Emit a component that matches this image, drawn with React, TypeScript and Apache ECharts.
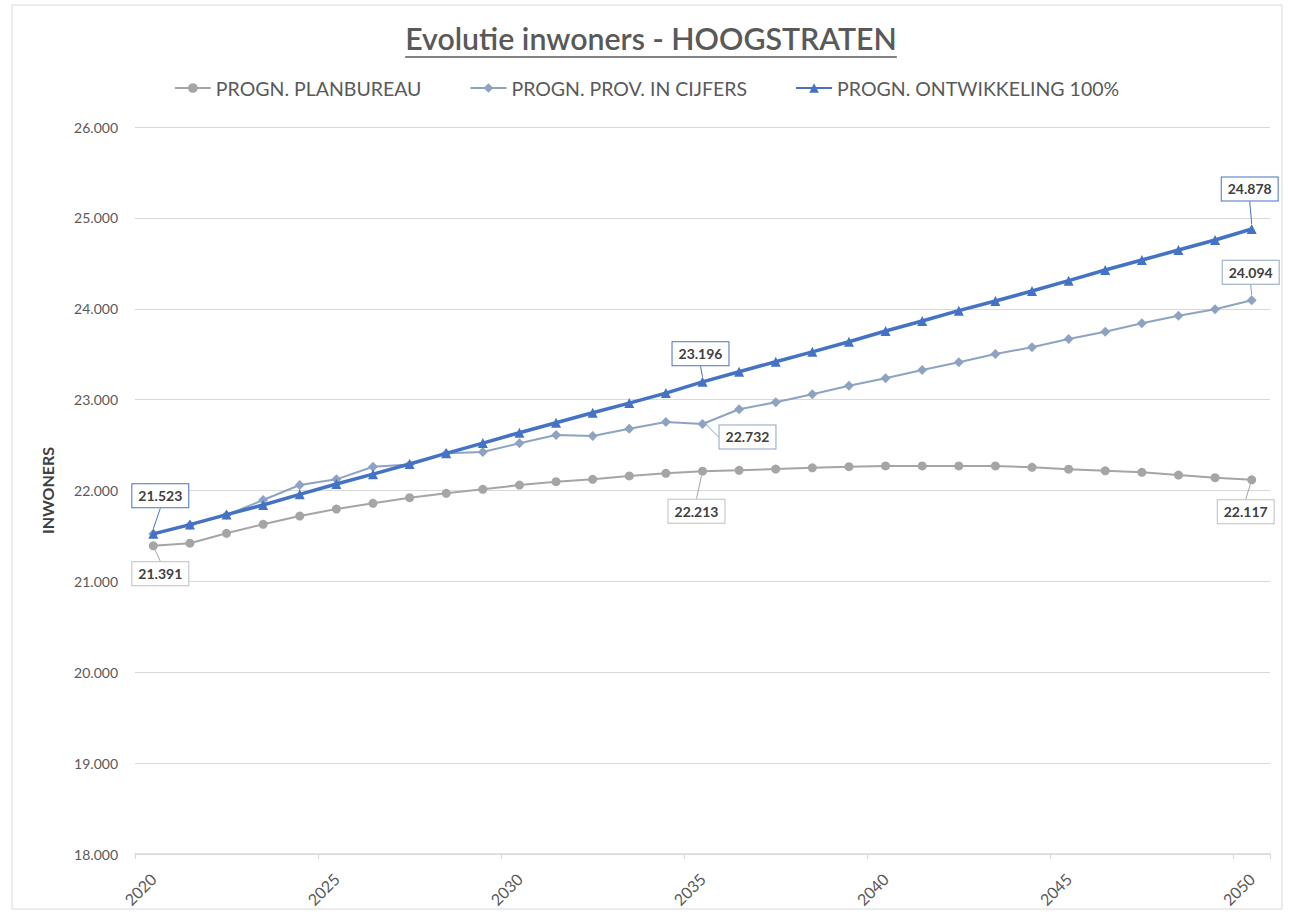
import React, { useEffect, useRef } from "react";
import * as echarts from "echarts";

const years = ["2020","2021","2022","2023","2024","2025","2026","2027","2028","2029","2030","2031","2032","2033","2034","2035","2036","2037","2038","2039","2040","2041","2042","2043","2044","2045","2046","2047","2048","2049","2050"];

const planbureau = [21391,21420,21529,21628,21719,21796,21859,21921,21969,22013,22060,22097,22123,22160,22189,22213,22222,22236,22250,22262,22270,22270,22270,22270,22255,22235,22216,22200,22170,22141,22117];
const provInCijfers = [21523,21620,21730,21895,22060,22123,22262,22285,22409,22424,22519,22611,22600,22680,22754,22732,22894,22971,23059,23153,23235,23326,23411,23502,23576,23667,23748,23840,23924,23994,24094];
const ontwikkeling = [21523,21625,21735,21840,21958,22072,22180,22292,22409,22522,22636,22745,22855,22962,23072,23196,23307,23417,23526,23637,23755,23865,23979,24085,24195,24309,24426,24536,24646,24757,24878];

const seriesNames = ["PROGN. PLANBUREAU", "PROGN. PROV. IN CIJFERS", "PROGN. ONTWIKKELING 100%"];
const titleText = "Evolutie inwoners - HOOGSTRATEN";
const yTicks = { min: 18000, max: 26000, interval: 1000 };

const fmt = (v: number) => {
  const t = Math.floor(v / 1000);
  const r = Math.round(v % 1000);
  return t + "." + String(r).padStart(3, "0");
};

export default function App() {
  const ref = useRef<HTMLDivElement>(null);
  useEffect(() => {
    document.body.style.margin = "0";
    const chart = echarts.init(ref.current!, null, { renderer: "svg" });
    const font = "Lato, 'Open Sans', sans-serif";
    const colors = ["#a5a5a5", "#8ea3c2", "#4472c4"];

    // measure title for underline
    const ctx = document.createElement("canvas").getContext("2d")!;
    ctx.font = "600 28px Lato";
    const w28 = ctx.measureText(titleText).width || 460;
    const titleSize = Math.max(24, Math.min(31, (28 * 492) / w28));
    ctx.font = `600 ${titleSize}px Lato`;
    const tw = ctx.measureText(titleText).width || 492;
    const tcx = 651;

    const labelOffsets: Record<number, Record<number, [number, number]>> = {
      0: { 0: [7, 28], 15: [-6, 40], 30: [-6, 32] },
      1: { 15: [45, 13], 30: [-1, -28] },
      2: { 0: [7, -38], 15: [-2, -28], 30: [-2, -40] },
    };
    const labelIdx: Record<number, number[]> = { 0: [0, 15, 30], 1: [15, 30], 2: [0, 15, 30] };

    const mk = (si: number, vals: number[], symbol: string, size: number, width: number) => ({
      name: seriesNames[si],
      type: "line",
      data: vals.map((v, i) =>
        labelIdx[si].includes(i) ? { value: v, label: { show: true } } : v
      ),
      symbol,
      symbolSize: size,
      itemStyle: { color: colors[si] },
      lineStyle: { color: colors[si], width },
      z: si + 2,
      label: {
        show: false,
        position: "inside",
        formatter: (p: any) => fmt(p.value),
        fontFamily: font,
        fontWeight: "bold",
        fontSize: 14,
        color: "#404040",
        backgroundColor: "#ffffff",
        borderColor: si === 0 ? "#bfbfbf" : colors[si],
        borderWidth: 1,
        padding: [5, 6, 4, 6],
      },
      labelLine: { show: true, lineStyle: { color: colors[si], width: 1 } },
      labelLayout: (p: any) => {
        const o = labelOffsets[si][p.dataIndex];
        if (!o) return {};
        return { dx: o[0], dy: o[1] };
      },
    });

    chart.setOption({
      animation: false,
      backgroundColor: "#ffffff",
      textStyle: { fontFamily: font },
      graphic: [
        {
          type: "rect",
          shape: { x: 12, y: 5, width: 1270, height: 904 },
          style: { fill: "none", stroke: "#d9d9d9", lineWidth: 1 },
          silent: true,
        },
        {
          type: "text",
          x: tcx,
          y: 38,
          style: {
            text: titleText,
            fontFamily: "Lato",
            fontSize: titleSize,
            fontWeight: 600,
            fill: "#595959",
            textAlign: "center",
            textVerticalAlign: "middle",
          },
          silent: true,
        },
        {
          type: "line",
          shape: { x1: tcx - tw / 2, y1: 57, x2: tcx + tw / 2, y2: 57 },
          style: { stroke: "#595959", lineWidth: 1.5 },
          silent: true,
        },
      ],
      legend: {
        top: 73,
        left: "center",
        itemGap: 48,
        itemWidth: 36,
        itemHeight: 12,
        textStyle: { fontFamily: font, fontSize: 19.5, color: "#595959" },
        data: seriesNames,
      },
      grid: { left: 135, right: 23, top: 127, bottom: 62, containLabel: false },
      xAxis: {
        type: "category",
        data: years,
        boundaryGap: true,
        axisLine: { show: true, lineStyle: { color: "#d9d9d9", width: 1.5 } },
        axisTick: { show: true, interval: 4, alignWithLabel: false, length: 5, lineStyle: { color: "#d9d9d9" } },
        axisLabel: {
          interval: 4,
          rotate: 45,
          margin: 22,
          fontFamily: font,
          fontSize: 16,
          color: "#595959",
        },
        splitLine: { show: false },
      },
      yAxis: {
        type: "value",
        min: yTicks.min,
        max: yTicks.max,
        interval: yTicks.interval,
        name: "INWONERS",
        nameLocation: "middle",
        nameGap: 80,
        nameTextStyle: { fontFamily: font, fontSize: 16, fontWeight: "bold", color: "#404040" },
        axisLine: { show: false },
        axisTick: { show: false },
        axisLabel: { fontFamily: font, fontSize: 14, color: "#595959", margin: 17, formatter: (v: number) => fmt(v) },
        splitLine: { lineStyle: { color: "#d9d9d9", width: 1 } },
      },
      series: [
        mk(0, planbureau, "circle", 9, 2),
        mk(1, provInCijfers, "diamond", 10, 2),
        mk(2, ontwikkeling, "triangle", 10, 3.5),
      ],
    });
    return () => chart.dispose();
  }, []);
  return <div ref={ref} style={{ width: 1293, height: 916 }} />;
}
